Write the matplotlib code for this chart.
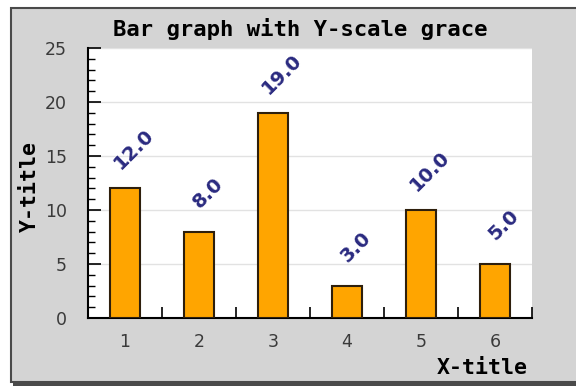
import matplotlib.pyplot as plt
from matplotlib.patches import Rectangle
from matplotlib.ticker import MultipleLocator

# Data
categories = [1, 2, 3, 4, 5, 6]
values = [12.0, 8.0, 19.0, 3.0, 10.0, 5.0]
value_labels = ["%.1f" % v for v in values]

W, H = 576, 387
fig = plt.figure(figsize=(W / 100, H / 100), dpi=100, facecolor="white")

# Framed gray panel with a small drop shadow along the bottom
fig.patches.append(Rectangle((13 / W, 1 / H), 570 / W, 10 / H,
                             transform=fig.transFigure, facecolor="#4a4a4a",
                             edgecolor="none", zorder=0))
fig.patches.append(Rectangle((11 / W, 1 - 382 / H), 570 / W, 374 / H,
                             transform=fig.transFigure, facecolor="#d4d4d4",
                             edgecolor="#4a4a4a", linewidth=1.5, zorder=1))

ax = fig.add_axes([88 / W, 1 - 318 / H, 444 / W, 270 / H])
ax.set_facecolor("white")
ax.set_zorder(2)

ax.bar(categories, values, width=0.4, color="#ffa500", edgecolor="#2e1f0c",
       linewidth=1.5, zorder=3)

for x, v, s in zip(categories, values, value_labels):
    ax.annotate(s, xy=(x, v), xytext=(9, 39), textcoords="offset pixels",
                ha="center", va="center", rotation=45, fontsize=14,
                fontweight="bold", color="#2a2a80", zorder=4)

ax.set_xlim(0.5, 6.5)
ax.set_ylim(0, 25)

# y axis: majors every 5, minors every 1, ticks pointing inwards
ax.yaxis.set_major_locator(MultipleLocator(5))
ax.yaxis.set_minor_locator(MultipleLocator(1))
ax.tick_params(axis="y", which="major", direction="in", length=9, width=1.2,
               pad=15, labelsize=12.5, labelcolor="#3a3a3a")
ax.tick_params(axis="y", which="minor", direction="in", length=5, width=1.0)

# x axis: labels at the category centres, ticks between categories
ax.set_xticks(categories)
ax.set_xticklabels([str(c) for c in categories])
ax.tick_params(axis="x", which="major", length=0, pad=11, labelsize=12.5,
               labelcolor="#3a3a3a")
ax.set_xticks([1.5, 2.5, 3.5, 4.5, 5.5, 6.5], minor=True)
ax.tick_params(axis="x", which="minor", direction="in", length=8, width=1.2)

ax.grid(axis="y", which="major", color="#e2e2e2", linewidth=1.0, zorder=0)
ax.set_axisbelow(True)

for side in ["top", "right"]:
    ax.spines[side].set_visible(False)
for side in ["left", "bottom"]:
    ax.spines[side].set_linewidth(1.5)
    ax.spines[side].set_color("black")

mono = "DejaVu Sans Mono"
fig.text(300 / W, 1 - 29 / H, "Bar graph with Y-scale grace", ha="center",
         va="center", fontsize=16, fontweight="bold", family=mono, zorder=5)
fig.text(30 / W, 1 - 186 / H, "Y-title", ha="center", va="center",
         rotation=90, fontsize=15.5, fontweight="bold", family=mono, zorder=5)
fig.text(528 / W, 1 - 368 / H, "X-title", ha="right", va="center",
         fontsize=15.5, fontweight="bold", family=mono, zorder=5)

fig.savefig("out.png", dpi=100, facecolor="white")
